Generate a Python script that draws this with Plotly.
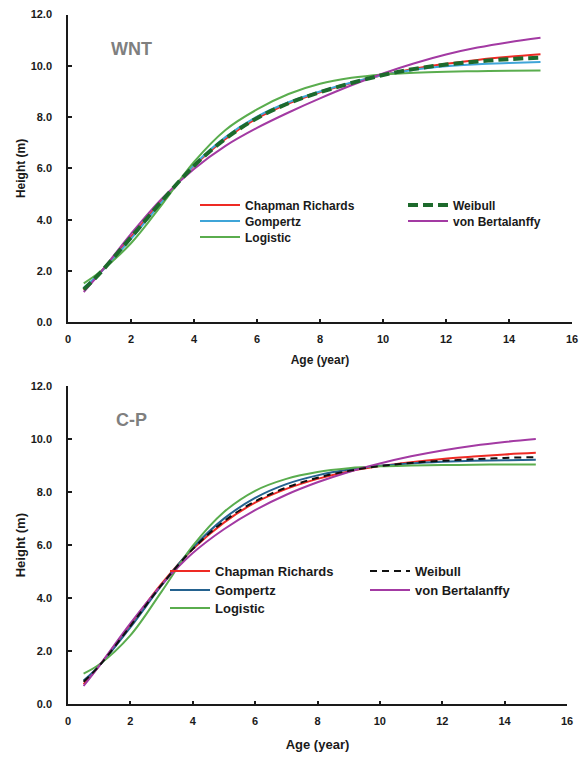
import plotly.graph_objects as go

# ---------------- data ----------------
AGES = [0.5, 1, 2, 3, 4, 5, 6, 7, 8, 9, 10, 11, 12, 13, 14, 15]

# WNT panel
WNT_CHAPMAN = [1.25, 1.90, 3.33, 4.78, 6.10, 7.15, 7.95, 8.53, 8.97, 9.33, 9.64, 9.89, 10.08, 10.23, 10.35, 10.45]
WNT_WEIBULL = [1.28, 1.90, 3.31, 4.76, 6.10, 7.16, 7.96, 8.54, 8.97, 9.33, 9.64, 9.88, 10.05, 10.17, 10.26, 10.32]
WNT_GOMPERTZ = [1.35, 1.90, 3.25, 4.72, 6.13, 7.22, 8.02, 8.58, 9.00, 9.35, 9.64, 9.85, 9.98, 10.06, 10.11, 10.15]
WNT_LOGISTIC = [1.52, 1.95, 3.08, 4.62, 6.25, 7.50, 8.30, 8.90, 9.30, 9.53, 9.66, 9.73, 9.77, 9.79, 9.81, 9.82]
WNT_VONB = [1.18, 1.90, 3.45, 4.85, 5.98, 6.88, 7.58, 8.18, 8.73, 9.24, 9.70, 10.10, 10.44, 10.71, 10.92, 11.09]

# C-P panel
CP_CHAPMAN = [0.76, 1.45, 3.00, 4.55, 5.85, 6.85, 7.60, 8.12, 8.50, 8.78, 8.98, 9.13, 9.25, 9.34, 9.42, 9.48]
CP_WEIBULL = [0.85, 1.45, 2.95, 4.50, 5.85, 6.90, 7.65, 8.17, 8.54, 8.80, 8.98, 9.10, 9.18, 9.24, 9.29, 9.32]
CP_GOMPERTZ = [0.90, 1.45, 2.90, 4.48, 5.90, 7.00, 7.78, 8.30, 8.63, 8.85, 8.99, 9.08, 9.14, 9.18, 9.20, 9.22]
CP_LOGISTIC = [1.16, 1.50, 2.60, 4.25, 5.97, 7.25, 8.05, 8.50, 8.76, 8.90, 8.97, 9.00, 9.02, 9.03, 9.04, 9.04]
CP_VONB = [0.69, 1.45, 3.05, 4.50, 5.70, 6.60, 7.32, 7.90, 8.37, 8.76, 9.08, 9.35, 9.57, 9.75, 9.89, 10.00]

NAMES = ["Chapman Richards", "Weibull", "Gompertz", "von Bertalanffy", "Logistic"]
PANELS = ["WNT", "C-P"]

# ---------------- styling ----------------
W, H = 585, 757
FONT = "Liberation Sans"
INK = "#1a1a1a"
RED = "#ee2a24"
GREEN = "#5aad4e"
PURPLE = "#a33aa3"
BLUE_TOP = "#3fa5d8"
BLUE_BOT = "#24628f"
WEIB_TOP = "#1d6a2c"
WEIB_BOT = "#111111"


def fx(p):
    return p / W


def fy(p):
    return 1 - p / H


fig = go.Figure()

# legend slot for each series, order: Chapman, Weibull, Gompertz, vonB, Logistic
TOP_LEG = ["legend", "legend2", "legend3", "legend4", "legend5"]
BOT_LEG = ["legend6", "legend7", "legend8", "legend9", "legend10"]


def add_panel(xa, ya, legs, chap, weib, gomp, logi, vonb, blue, weib_col, weib_w, weib_dash):
    common = dict(x=AGES, mode="lines", xaxis=xa, yaxis=ya,
                  line_shape="spline", showlegend=True)
    fig.add_trace(go.Scatter(y=chap, name=NAMES[0], legend=legs[0],
                             line=dict(color=RED, width=2), **common))
    fig.add_trace(go.Scatter(y=gomp, name=NAMES[2], legend=legs[2],
                             line=dict(color=blue, width=2), **common))
    fig.add_trace(go.Scatter(y=logi, name=NAMES[4], legend=legs[4],
                             line=dict(color=GREEN, width=2), **common))
    fig.add_trace(go.Scatter(y=vonb, name=NAMES[3], legend=legs[3],
                             line=dict(color=PURPLE, width=2), **common))
    fig.add_trace(go.Scatter(y=weib, name=NAMES[1], legend=legs[1],
                             line=dict(color=weib_col, width=weib_w, dash=weib_dash), **common))


add_panel("x", "y", TOP_LEG, WNT_CHAPMAN, WNT_WEIBULL, WNT_GOMPERTZ,
          WNT_LOGISTIC, WNT_VONB, BLUE_TOP, WEIB_TOP, 4, "10px,5px")
add_panel("x2", "y2", BOT_LEG, CP_CHAPMAN, CP_WEIBULL, CP_GOMPERTZ,
          CP_LOGISTIC, CP_VONB, BLUE_BOT, WEIB_BOT, 2, "7px,5px")

tickfont = dict(family=FONT, size=11, color=INK, weight="bold")


def xaxis(domain, anchor, tsize, standoff):
    return dict(domain=domain, anchor=anchor, range=[0, 16], tick0=0, dtick=2,
                showline=True, linecolor=INK, linewidth=1.5,
                ticks="inside", ticklen=4, tickwidth=1.5, tickcolor=INK,
                showgrid=False, zeroline=False, tickfont=tickfont,
                ticklabelstandoff=6, automargin=False,
                title=dict(text="Age (year)",
                           font=dict(family=FONT, size=tsize, color=INK, weight="bold"),
                           standoff=standoff))


def yaxis(domain, anchor, tsize):
    return dict(domain=domain, anchor=anchor, range=[0, 12], tick0=0, dtick=2,
                tickformat=".1f",
                showline=True, linecolor=INK, linewidth=1.5,
                ticks="inside", ticklen=4, tickwidth=1.5, tickcolor=INK,
                showgrid=False, zeroline=False, tickfont=tickfont,
                ticklabelstandoff=12, automargin=False,
                title=dict(text="Height (m)",
                           font=dict(family=FONT, size=tsize, color=INK, weight="bold"),
                           standoff=2))


def leg(xp, yp, size):
    return dict(x=fx(xp), y=fy(yp), xanchor="left", yanchor="middle",
                bgcolor="rgba(0,0,0,0)", borderwidth=0, itemwidth=40,
                itemclick=False, itemdoubleclick=False, visible=True,
                font=dict(family=FONT, size=size, weight="bold", color=INK))


layout_legends = {
    "legend": leg(195, 205, 12),
    "legend2": leg(403, 205, 12),
    "legend3": leg(195, 221, 12),
    "legend4": leg(403, 221, 12),
    "legend5": leg(195, 237, 12),
    "legend6": leg(165, 571, 13),
    "legend7": leg(365, 571, 13),
    "legend8": leg(165, 590, 13),
    "legend9": leg(365, 590, 13),
    "legend10": leg(165, 608, 13),
}

fig.update_layout(
    width=W, height=H,
    showlegend=True,
    margin=dict(l=0, r=0, t=0, b=0),
    paper_bgcolor="white", plot_bgcolor="white",
    font=dict(family=FONT, color=INK),
    xaxis=xaxis([fx(68), fx(572)], "y", 12, 11),
    yaxis=yaxis([fy(322.3), fy(14.5)], "x", 12),
    xaxis2=xaxis([fx(68), fx(567)], "y2", 13, 14),
    yaxis2=yaxis([fy(704.3), fy(386)], "x2", 13),
    annotations=[
        dict(text=PANELS[0], x=fx(109), y=fy(49), xref="paper", yref="paper",
             xanchor="left", yanchor="middle", showarrow=False,
             font=dict(family=FONT, size=18, color="#7f7f7f", weight="bold")),
        dict(text=PANELS[1], x=fx(114), y=fy(420), xref="paper", yref="paper",
             xanchor="left", yanchor="middle", showarrow=False,
             font=dict(family=FONT, size=18, color="#7f7f7f", weight="bold")),
    ],
    **layout_legends,
)

fig.write_html("out.html")
